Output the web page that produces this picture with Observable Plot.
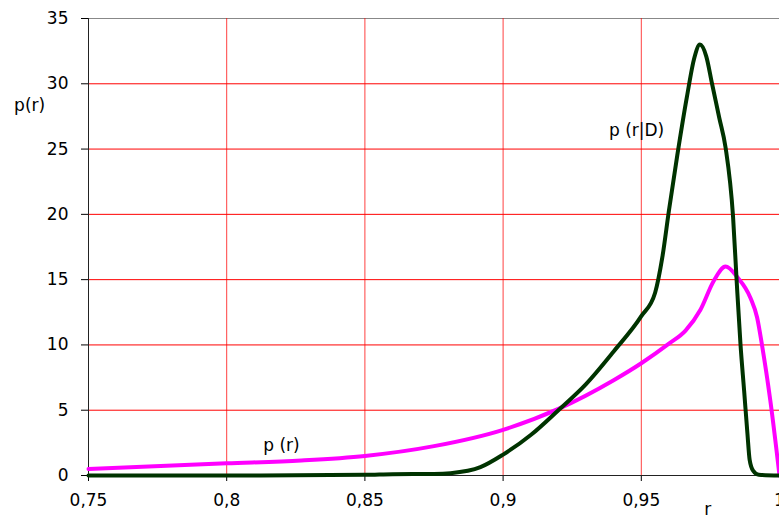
<!DOCTYPE html>
<html><head><meta charset="utf-8">
<script src="https://cdn.jsdelivr.net/npm/d3@7"></script>
<script src="https://cdn.jsdelivr.net/npm/@observablehq/plot@0.6"></script>
<style>
body{margin:0;background:#fff;overflow:hidden}
#chart svg{font-family:"DejaVu Sans",sans-serif;}
</style>
</head><body><div id="chart"></div>
<script>
// p(r) prior (magenta)
const rPrior = [0.75,0.8,0.827,0.85,0.875,0.9,0.92,0.94,0.95,0.96,0.966,0.9714,0.9762,0.9805,0.9847,0.9895,0.9919,0.9937,0.9967,1.0];
const pPrior = [0.5,0.93,1.15,1.5,2.25,3.5,5.1,7.3,8.6,10.1,11.1,12.7,14.9,16.0,15.2,13.6,12.1,9.95,5.7,0];
// p(r|D) posterior (dark green)
const rPost = [0.75,0.8,0.85,0.86,0.875,0.881,0.8918,0.9,0.91,0.92,0.93,0.94,0.95,0.955,0.9576,0.960,0.963,0.9665,0.9692,0.9712,0.9735,0.9756,0.9782,0.9805,0.9832,0.9845,0.9859,0.9872,0.9884,0.9892,0.9905,0.9925,1.0];
const pPost = [0,0,0.05,0.1,0.12,0.18,0.64,1.6,3.1,5.0,7.0,9.5,12.2,14.0,16.7,20.3,24.5,29,32,33.0,32.1,30,27.4,25.1,19.8,14.9,10,6.5,3.2,1.2,0.35,0.05,0];

const xTicks = [0.75,0.8,0.85,0.9,0.95,1];
const yTicks = [0,5,10,15,20,25,30,35];
const xGrid = [0.8,0.85,0.9,0.95];
const yGrid = [5,10,15,20,25,30];

const prior = rPrior.map((r,i)=>({r, p:pPrior[i]}));
const post = rPost.map((r,i)=>({r, p:pPost[i]}));

const labels = [
  {x:0.8198, y:2.3, t:"p (r)"},
  {x:0.9483, y:26.4, t:"p (r|D)"},
  {x:0.7287, y:28.33, t:"p(r)"},
  {x:0.974, y:-2.6, t:"r"}
];

const chart = Plot.plot({
  width:779, height:519,
  marginLeft:88, marginRight:0, marginTop:18, marginBottom:44,
  style:{fontSize:"17px", fontFamily:"DejaVu Sans, sans-serif", background:"white", color:"#000", overflow:"visible"},
  x:{domain:[0.75,1]},
  y:{domain:[0,35]},
  marks:[
    Plot.ruleY(yGrid, {stroke:"#ff0000", strokeWidth:1}),
    Plot.ruleY([35], {stroke:"#888", strokeWidth:1}),
    Plot.ruleX(xGrid, {stroke:"#ff0000", strokeWidth:1, strokeOpacity:0.75}),
    Plot.axisY({ticks:yTicks, tickSize:7, tickPadding:13, label:null, tickFormat:d=>String(d)}),
    Plot.axisX({ticks:xTicks, tickSize:6, tickPadding:12, label:null, tickFormat:d=>String(d).replace(".", ",")}),
    Plot.ruleX([0.75], {stroke:"#222"}),
    Plot.ruleY([0], {stroke:"#222"}),
    Plot.line(prior, {x:"r", y:"p", stroke:"#ff00ff", strokeWidth:4, curve:"monotone-x"}),
    Plot.line(post, {x:"r", y:"p", stroke:"#003300", strokeWidth:4, curve:"monotone-x"}),
    Plot.text(labels, {x:"x", y:"y", text:"t", fontSize:17, fill:"#000"})
  ]
});
document.getElementById("chart").appendChild(chart);
</script>
</body></html>
